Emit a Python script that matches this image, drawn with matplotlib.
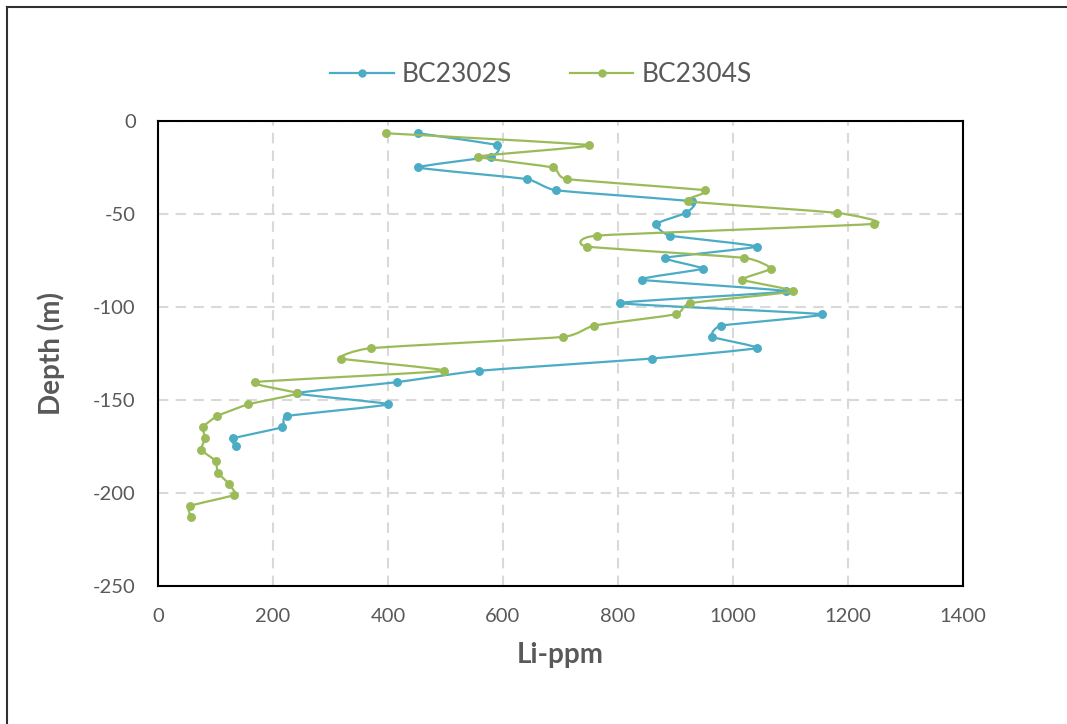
import numpy as np
import matplotlib.pyplot as plt
from matplotlib.path import Path
from matplotlib.patches import PathPatch
from matplotlib.lines import Line2D

plt.rcParams['font.family'] = ['Lato', 'DejaVu Sans']
plt.rcParams['axes.unicode_minus'] = False

# depth (m) and Li concentration (ppm)
depth_bc2302s = [-6.6, -13.0, -19.1, -25.0, -31.2, -37.3, -43.2, -49.4, -55.3, -61.6,
                 -67.5, -73.6, -79.4, -85.3, -91.6, -97.9, -103.9, -110.0, -116.1, -122.1,
                 -127.7, -134.3, -140.4, -146.4, -152.3, -158.6, -164.6, -170.7, -175.0]
li_bc2302s = [453, 590, 580, 453, 641, 693, 928, 918, 866, 890,
              1041, 882, 947, 841, 1093, 803, 1155, 980, 964, 1041,
              859, 558, 416, 242, 400, 225, 216, 130, 135]

depth_bc2304s = [-6.6, -13.0, -19.1, -25.0, -31.2, -37.3, -43.2, -49.4, -55.3, -61.6,
                 -67.5, -73.6, -79.4, -85.3, -91.6, -97.9, -103.9, -110.0, -116.1, -122.1,
                 -127.7, -134.3, -140.4, -146.4, -152.3, -158.6, -164.6, -170.7, -176.8, -182.7,
                 -189.0, -195.0, -201.0, -207.0, -213.0]
li_bc2304s = [396, 750, 557, 687, 711, 952, 922, 1181, 1246, 764,
              746, 1020, 1066, 1016, 1104, 926, 901, 758, 704, 371,
              318, 497, 168, 242, 157, 103, 78, 82, 75, 100,
              104, 123, 133, 55, 57]

series = [('BC2302S', li_bc2302s, depth_bc2302s, '#4BACC6'),
          ('BC2304S', li_bc2304s, depth_bc2304s, '#9BBB59')]

x_ticks = [0, 200, 400, 600, 800, 1000, 1200, 1400]
y_ticks = [0, -50, -100, -150, -200, -250]

grey_text = '#595959'


def smooth_path(x, y, k=0.07):
    # gentle Excel-like smoothing: Catmull-Rom segments as cubic Beziers
    pts = np.column_stack([x, y]).astype(float)
    n = len(pts)
    verts = [pts[0]]
    codes = [Path.MOVETO]
    for i in range(n - 1):
        p0 = pts[i - 1] if i > 0 else pts[i]
        p1 = pts[i]
        p2 = pts[i + 1]
        p3 = pts[i + 2] if i + 2 < n else pts[i + 1]
        c1 = p1 + (p2 - p0) * k
        c2 = p2 - (p3 - p1) * k
        verts += [c1, c2, p2]
        codes += [Path.CURVE4] * 3
    return Path(verts, codes)


fig = plt.figure(figsize=(10.67, 7.24), dpi=100)
ax = fig.add_axes([0.1481, 0.1906, 0.7544, 0.6423])

handles = []
for i, (name, xs, ys, color) in enumerate(series):
    patch = PathPatch(smooth_path(xs, ys), facecolor='none', edgecolor=color,
                      lw=1.6, zorder=3 + i)
    ax.add_patch(patch)
    ax.plot(xs, ys, linestyle='none', marker='o', markersize=5.4,
            color=color, zorder=3 + i)
    handles.append(Line2D([], [], color=color, lw=1.6, marker='o', markersize=5, label=name))

ax.set_xlim(0, 1400)
ax.set_ylim(-250, 0)
ax.set_xticks(x_ticks)
ax.set_yticks(y_ticks)
ax.grid(True, color='#D9D9D9', linestyle=(0, (5, 3.5)), linewidth=1.5)
ax.set_axisbelow(True)
ax.tick_params(length=0, labelsize=14.5, labelcolor=grey_text, pad=16)
for s in ax.spines.values():
    s.set_color('black')
    s.set_linewidth(1.5)

ax.set_xlabel('Li-ppm', fontsize=20, fontweight='bold', color=grey_text, labelpad=12)
ax.set_ylabel('Depth (m)', fontsize=20, fontweight='bold', color=grey_text, labelpad=20)

fig.legend(handles=handles, loc='center', bbox_to_anchor=(0.507, 0.897), ncol=2,
           frameon=False, fontsize=19, labelcolor=grey_text, handlelength=2.4,
           handletextpad=0.3, columnspacing=2.2)

# outer chart frame (top and left edges visible)
fig.add_artist(Line2D([7 / 1067, 1], [1 - 7 / 724, 1 - 7 / 724], color='#303030', lw=1.5,
                      transform=fig.transFigure))
fig.add_artist(Line2D([7 / 1067, 7 / 1067], [0, 1 - 7 / 724], color='#303030', lw=1.5,
                      transform=fig.transFigure))

fig.savefig('out.png', dpi=100)
